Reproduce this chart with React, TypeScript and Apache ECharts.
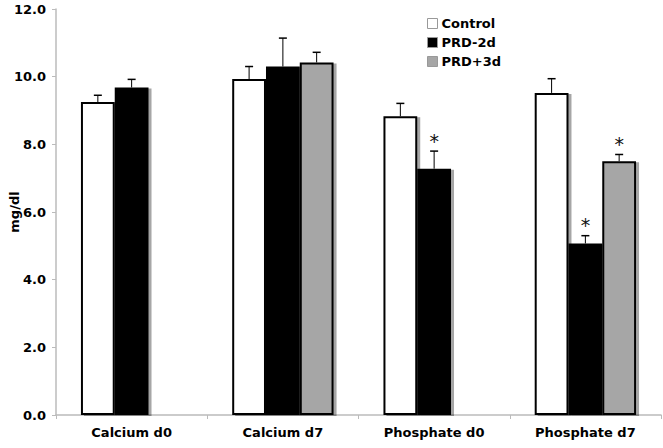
import React, { useEffect, useRef } from "react";
import * as echarts from "echarts";

const categories = ["Calcium d0", "Calcium d7", "Phosphate d0", "Phosphate d7"];
const seriesNames = ["Control", "PRD-2d", "PRD+3d"];
const controlValues = [9.25, 9.93, 8.83, 9.52];
const controlErrors = [0.2, 0.37, 0.38, 0.42];
const prd2Values = [9.68, 10.3, 7.28, 5.07];
const prd2Errors = [0.24, 0.84, 0.52, 0.23];
const prd3Values: (number | null)[] = [null, 10.42, null, 7.5];
const prd3Errors: (number | null)[] = [null, 0.3, null, 0.2];
const controlSig = [false, false, false, false];
const prd2Sig = [false, false, true, true];
const prd3Sig = [false, false, false, true];

const FONT = "DejaVu Sans";
const GAP = 0.33;

function errorSeries(values: (number | null)[], errors: (number | null)[], sig: boolean[], slot: number) {
  const data = values.map((v, i) => [i, v == null ? null : v, errors[i] == null ? 0 : errors[i], sig[i] ? 1 : 0]);
  return {
    type: "custom",
    z: 10,
    silent: true,
    data: data.filter((d) => d[1] != null),
    renderItem: (params: any, api: any) => {
      const ci = api.value(0);
      const v = api.value(1);
      const e = api.value(2);
      const s = api.value(3);
      const catW = api.size([1, 0])[0];
      const bw = (catW * (1 - GAP)) / 3;
      const base = api.coord([ci, v]);
      const top = api.coord([ci, v + e]);
      const x = base[0] + (slot - 1) * bw;
      const children: any[] = [
        { type: "line", shape: { x1: x, y1: base[1], x2: x, y2: top[1] }, style: { stroke: "#000", lineWidth: 1 } },
        { type: "line", shape: { x1: x - 4, y1: top[1], x2: x + 4, y2: top[1] }, style: { stroke: "#000", lineWidth: 1.5 } },
      ];
      if (s) {
        children.push({
          type: "text",
          style: { text: "*", x: x, y: top[1] - 1, align: "center", verticalAlign: "bottom", fontSize: 19, fontFamily: FONT, fill: "#111" },
        });
      }
      return { type: "group", children };
    },
  };
}

const shadow = { shadowColor: "rgba(0,0,0,0.35)", shadowOffsetX: 3, shadowOffsetY: 1, shadowBlur: 1 };

export default function App() {
  const ref = useRef<HTMLDivElement>(null);
  useEffect(() => {
    if (!ref.current) return;
    const chart = echarts.init(ref.current, undefined, { renderer: "svg" });
    chart.setOption({
      animation: false,
      backgroundColor: "#fff",
      grid: { left: 56, right: 2, top: 9, bottom: 33, containLabel: false, outerBoundsMode: "none" },
      legend: {
        data: seriesNames,
        orient: "vertical",
        left: 427,
        top: 17,
        padding: 0,
        itemWidth: 10,
        itemHeight: 10,
        itemGap: 6,
        icon: "rect",
        textStyle: { fontFamily: FONT, fontWeight: "bold", fontSize: 13, color: "#000", padding: [0, 0, 0, -1] },
        itemStyle: { borderWidth: 1, borderColor: "#999", shadowBlur: 0, shadowOffsetX: 0, shadowOffsetY: 0 },
      },
      xAxis: {
        type: "category",
        data: categories,
        axisLine: { lineStyle: { color: "#bbb", width: 1.5 } },
        axisTick: { show: true, length: 4, lineStyle: { color: "#bbb" } },
        axisLabel: { fontFamily: FONT, fontWeight: "bold", fontSize: 13, color: "#000", margin: 11 },
      },
      yAxis: {
        type: "value",
        min: 0,
        max: 12,
        interval: 2,
        name: "mg/dl",
        nameLocation: "middle",
        nameGap: 35,
        nameMoveOverlap: false,
        nameTextStyle: { fontFamily: FONT, fontWeight: "bold", fontSize: 13, color: "#000" },
        axisLine: { show: true, lineStyle: { color: "#bbb", width: 1.5 } },
        axisTick: { show: true, length: 4, lineStyle: { color: "#bbb" } },
        splitLine: { show: false },
        axisLabel: { fontFamily: FONT, fontWeight: "bold", fontSize: 13, color: "#000", margin: 10, formatter: (v: number) => v.toFixed(1) },
      },
      series: [
        { name: "Control", type: "bar", data: controlValues, barGap: "0%", barCategoryGap: "33%", itemStyle: { color: "#fff", borderColor: "#000", borderWidth: 2, ...shadow } },
        { name: "PRD-2d", type: "bar", data: prd2Values, barGap: "0%", barCategoryGap: "33%", itemStyle: { color: "#000", borderColor: "#000", borderWidth: 2, ...shadow } },
        { name: "PRD+3d", type: "bar", data: prd3Values, barGap: "0%", barCategoryGap: "33%", itemStyle: { color: "#a6a6a6", borderColor: "#000", borderWidth: 2, ...shadow } },
        errorSeries(controlValues, controlErrors, controlSig, 0),
        errorSeries(prd2Values, prd2Errors, prd2Sig, 1),
        errorSeries(prd3Values, prd3Errors, prd3Sig, 2),
      ],
    });
    return () => chart.dispose();
  }, []);
  return <div ref={ref} style={{ position: "fixed", left: 0, top: 0, width: 663, height: 448 }} />;
}
